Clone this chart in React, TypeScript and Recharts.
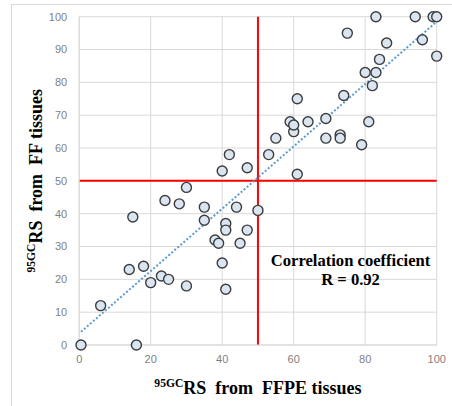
import React from 'react';
import {
  ScatterChart,
  Scatter,
  XAxis,
  YAxis,
  CartesianGrid,
  ReferenceLine,
  ReferenceDot,
  Label,
} from 'recharts';

// 95GC RS from FFPE tissues (x) and from FF tissues (y)
const ffpeValues = [
  0.5, 16, 6, 14, 18, 15, 20, 23, 25, 24, 28, 30, 30, 35, 35, 38, 39, 40, 41, 41,
  41, 44, 45, 47, 50, 40, 42, 47, 53, 55, 61, 60, 59, 60, 64, 69, 69, 73, 73, 74,
  61, 79, 81, 82, 80, 83, 84, 75, 86, 96, 100, 83, 94, 99, 100,
];
const ffValues = [
  0, 0, 12, 23, 24, 39, 19, 21, 20, 44, 43, 48, 18, 42, 38, 32, 31, 25, 37, 35,
  17, 42, 31, 35, 41, 53, 58, 54, 58, 63, 52, 65, 68, 67, 68, 69, 63, 64, 63, 76,
  75, 61, 68, 79, 83, 83, 87, 95, 92, 93, 88, 100, 100, 100, 100,
];

const xTicks = [0, 20, 40, 60, 80, 100];
const yTicks = [0, 10, 20, 30, 40, 50, 60, 70, 80, 90, 100];

const cutoffX = 50;
const cutoffY = 50;

const trendX = [0.5, 100];
const trendY = [4, 98.5];

const annotationLines = ['Correlation coefficient', 'R = 0.92'];
const annotationAnchor = { x: 75.9, y: 22.8 };

const points = ffpeValues.map((x, i) => ({ x, y: ffValues[i] }));
const trendSegment = trendX.map((x, i) => ({ x, y: trendY[i] }));

const serif = '"Liberation Serif", "Times New Roman", serif';
const sans = '"Liberation Sans", Arial, sans-serif';

const Marker = (props: any) => {
  const { cx, cy } = props;
  if (cx == null || cy == null) return null;
  return <circle cx={cx} cy={cy} r={5} fill="#dae5f2" stroke="#3c3c3c" strokeWidth={1.4} />;
};

const XTitle = (props: any) => {
  const vb = props.viewBox || {};
  const cx = vb.x + vb.width / 2;
  const y = vb.y + 48.5;
  return (
    <text x={cx} y={y} textAnchor="middle" fontFamily={serif} fontWeight="bold" fontSize={18} fill="#000">
      <tspan fontSize={11.6} dy={-6.6}>95GC</tspan>
      <tspan dy={6.6}>{'RS\u00a0 from\u00a0 FFPE tissues'}</tspan>
    </text>
  );
};

const YTitle = (props: any) => {
  const vb = props.viewBox || {};
  const cy = vb.y + vb.height / 2;
  const x = 41.5;
  return (
    <text
      x={0}
      y={0}
      transform={`translate(${x},${cy}) rotate(-90)`}
      textAnchor="middle"
      fontFamily={serif}
      fontWeight="bold"
      fontSize={18}
      fill="#000"
    >
      <tspan fontSize={11.6} dy={-6.6}>95GC</tspan>
      <tspan dy={6.6}>{'RS\u00a0 from\u00a0 FF tissues'}</tspan>
    </text>
  );
};

const Annotation = (props: any) => {
  const vb = props.viewBox || {};
  const cx = vb.x + (vb.width || 0) / 2;
  const cy = vb.y + (vb.height || 0) / 2;
  return (
    <text textAnchor="middle" fontFamily={serif} fontWeight="bold" fontSize={16.6} fill="#000">
      <tspan x={cx} y={cy - 4}>{annotationLines[0]}</tspan>
      <tspan x={cx} y={cy + 15}>{annotationLines[1]}</tspan>
    </text>
  );
};

export default function App() {
  return (
    <div style={{ position: 'absolute', left: 0, top: 0, width: 452, height: 406, overflow: 'hidden', background: '#fff' }}>
      <div
        style={{
          position: 'absolute',
          left: 11,
          top: 4,
          width: 470,
          height: 430,
          border: '1px solid #d9d9d9',
          boxSizing: 'border-box',
        }}
      />
      <div style={{ position: 'absolute', left: 0, top: 0 }}>
        <ScatterChart
          width={452}
          height={406}
          margin={{ top: 16.7, right: 15.3, bottom: 0, left: 0 }}
        >
          <CartesianGrid stroke="#d9d9d9" strokeWidth={1} />
          <XAxis
            type="number"
            dataKey="x"
            domain={[0, 100]}
            ticks={xTicks}
            interval={0}
            height={61}
            tickLine={false}
            tickSize={0}
            tickMargin={10.5}
            axisLine={{ stroke: '#d9d9d9' }}
            tick={{ fill: '#7f7f7f', fontSize: 11, fontFamily: sans }}
          >
            <Label content={XTitle} />
          </XAxis>
          <YAxis
            type="number"
            dataKey="y"
            domain={[0, 100]}
            ticks={yTicks}
            interval={0}
            width={79.2}
            tickLine={false}
            tickSize={0}
            tickMargin={12}
            axisLine={{ stroke: '#d9d9d9' }}
            tick={{ fill: '#7f7f7f', fontSize: 11, fontFamily: sans }}
          >
            <Label content={YTitle} />
          </YAxis>
          <ReferenceLine x={cutoffX} stroke="#ff0000" strokeWidth={2} />
          <ReferenceLine y={cutoffY} stroke="#ff0000" strokeWidth={2} />
          <ReferenceLine
            segment={trendSegment}
            stroke="#5b9bd5"
            strokeWidth={2}
            strokeDasharray="2 2"
          />
          <Scatter data={points} shape={Marker} isAnimationActive={false} />
          <ReferenceDot
            x={annotationAnchor.x}
            y={annotationAnchor.y}
            r={0}
            fill="none"
            stroke="none"
          >
            <Label content={Annotation} />
          </ReferenceDot>
        </ScatterChart>
      </div>
    </div>
  );
}
